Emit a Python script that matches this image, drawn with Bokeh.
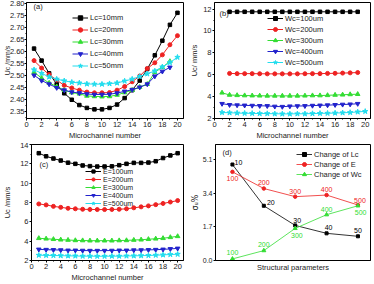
from bokeh.plotting import figure
from bokeh.layouts import row, column
from bokeh.models import (Range1d, SingleIntervalTicker, FixedTicker, NumeralTickFormatter,
                          Label, ColumnDataSource)
from bokeh.core.properties import value
from bokeh.embed import file_html
from bokeh.resources import INLINE

FONT = "Liberation Sans"

# ---------------- data ----------------
ch_1_20 = [1, 2, 3, 4, 5, 6, 7, 8, 9, 10, 11, 12, 13, 14, 15, 16, 17, 18, 19, 20]
ch_1_19 = [1, 2, 3, 4, 5, 6, 7, 8, 9, 10, 11, 12, 13, 14, 15, 16, 17, 18, 19]
ch_2_19 = [2, 3, 4, 5, 6, 7, 8, 9, 10, 11, 12, 13, 14, 15, 16, 17, 18, 19]

# (a) channel length Lc
a_names = ["Lc=10mm", "Lc=20mm", "Lc=30mm", "Lc=40mm", "Lc=50mm"]
a_L10 = [2.613, 2.563, 2.51, 2.465, 2.427, 2.40, 2.378, 2.366, 2.36, 2.36,
         2.366, 2.38, 2.407, 2.44, 2.48, 2.528, 2.585, 2.646, 2.712, 2.762]
a_L20 = [2.563, 2.532, 2.505, 2.482, 2.46, 2.449, 2.44, 2.432, 2.429, 2.429,
         2.43, 2.44, 2.455, 2.475, 2.499, 2.53, 2.554, 2.587, 2.629, 2.667]
a_L30 = [2.515, 2.49, 2.47, 2.455, 2.44, 2.43, 2.425, 2.416, 2.414, 2.413,
         2.414, 2.42, 2.43, 2.44, 2.453, 2.465, 2.515, 2.535, 2.56]
a_L40 = [2.502, 2.48, 2.465, 2.45, 2.44, 2.432, 2.428, 2.424, 2.422, 2.422,
         2.423, 2.428, 2.435, 2.442, 2.452, 2.465, 2.498, 2.518, 2.535]
a_L50 = [2.525, 2.51, 2.495, 2.486, 2.479, 2.473, 2.47, 2.466, 2.465, 2.465,
         2.467, 2.47, 2.478, 2.486, 2.497, 2.508, 2.52, 2.537, 2.555, 2.577]

# (b) channel width Wc
b_names = ["Wc=100um", "Wc=200um", "Wc=300um", "Wc=400um", "Wc=500um"]
b_W100 = [11.75, 11.75, 11.75, 11.75, 11.75, 11.75, 11.75, 11.75, 11.75,
          11.75, 11.75, 11.75, 11.75, 11.75, 11.75, 11.75, 11.75, 11.75]
b_W200 = [6.12, 6.1, 6.1, 6.1, 6.09, 6.08, 6.08, 6.08, 6.08, 6.08, 6.09, 6.1,
          6.1, 6.12, 6.13, 6.15, 6.17, 6.2]
b_W300 = [4.35, 4.15, 4.12, 4.1, 4.09, 4.08, 4.07, 4.07, 4.07, 4.07, 4.07, 4.08,
          4.1, 4.1, 4.12, 4.15, 4.17, 4.2, 4.22]
b_W400 = [3.35, 3.25, 3.22, 3.2, 3.18, 3.16, 3.15, 3.1, 3.08, 3.12, 3.14, 3.15,
          3.18, 3.2, 3.22, 3.25, 3.28, 3.3, 3.35]
b_W500 = [2.55, 2.52, 2.5, 2.48, 2.47, 2.45, 2.45, 2.43, 2.42, 2.42, 2.43, 2.43,
          2.45, 2.47, 2.48, 2.5, 2.52, 2.55, 2.6, 2.65]

# (c) spacing E
c_names = ["E=100um", "E=200um", "E=300um", "E=400um", "E=500um"]
c_E100 = [13.1, 12.78, 12.55, 12.34, 12.12, 12.0, 11.83, 11.76, 11.72, 11.72,
          11.74, 11.86, 12.0, 12.1, 12.1, 12.13, 12.27, 12.6, 12.87, 13.1]
c_E200 = [7.85, 7.75, 7.6, 7.5, 7.4, 7.35, 7.3, 7.28, 7.27, 7.27, 7.28, 7.3,
          7.35, 7.45, 7.55, 7.65, 7.78, 7.9, 8.05, 8.2]
c_E300 = [4.3, 4.25, 4.2, 4.15, 4.12, 4.08, 4.07, 4.05, 4.05, 4.05, 4.05, 4.07,
          4.08, 4.12, 4.15, 4.2, 4.25, 4.3, 4.4, 4.5]
c_E400 = [3.15, 3.12, 3.1, 3.08, 3.05, 3.05, 3.03, 3.02, 3.02, 3.02, 3.03, 3.05,
          3.05, 3.07, 3.08, 3.1, 3.12, 3.15, 3.2, 3.25]
c_E500 = [2.55, 2.53, 2.52, 2.5, 2.48, 2.47, 2.45, 2.45, 2.44, 2.44, 2.45, 2.45,
          2.47, 2.48, 2.5, 2.52, 2.55, 2.58, 2.62, 2.65]

# (d) sigma_U %
d_x = [1, 2, 3, 4, 5]
d_L = [4.84, 2.76, 1.77, 1.37, 1.22]
d_E = [4.47, 3.63, 3.22, 3.30, 2.80]
d_W = [0.08, 0.50, 1.62, 2.31, 2.76]
d_L_text = ["10", "20", "30", "40", "50"]
d_E_text = ["100", "200", "300", "400", "500"]
d_W_text = ["100", "200", "300", "400", "500"]
d_names = ["Change of Lc", "Change of E", "Change of Wc"]

COLORS = ["#000000", "#EE2222", "#33DD33", "#2222CC", "#22DDEE"]
MARKERS = ["square", "circle", "triangle", "inverted_triangle", "star"]
MSIZE = [3.5, 4, 4.5, 4.5, 5.5]
FS = "7.5px"


def make_fig(xr, yr, bl, br, bt, bb):
    p = figure(width=187, height=142, x_range=Range1d(*xr), y_range=Range1d(*yr),
               output_backend="svg", toolbar_location=None,
               min_border_left=bl, min_border_right=br, min_border_top=bt,
               min_border_bottom=bb, background_fill_color="white",
               border_fill_color="white")
    p.xgrid.visible = False
    p.ygrid.visible = False
    p.outline_line_color = "black"
    p.outline_line_alpha = 1
    p.outline_line_width = 1
    for ax in (p.xaxis[0], p.yaxis[0]):
        ax.axis_line_color = "black"
        ax.major_tick_line_color = "black"
        ax.minor_tick_line_color = "black"
        ax.major_tick_out = 2
        ax.major_tick_in = 0
        ax.minor_tick_out = 1
        ax.minor_tick_in = 0
        ax.major_label_text_font = FONT
        ax.major_label_text_font_size = FS
        ax.major_label_text_color = "#222222"
        ax.major_label_standoff = 1
        ax.axis_label_text_font = FONT
        ax.axis_label_text_font_size = FS
        ax.axis_label_text_font_style = "normal"
        ax.axis_label_text_color = "#222222"
        ax.axis_label_standoff = 1
    return p


def add_text(p, x, y, text, size=FS, align="left"):
    p.add_layout(Label(x=x, y=y, x_units="screen", y_units="screen", text=text,
                       text_font=FONT, text_font_size=size,
                       text_align=align, text_baseline="middle", text_color="#222222"))


def style_legend(p, loc, h, sp, fs=FS):
    lg = p.legend[0]
    lg.location = loc
    lg.border_line_color = None
    lg.background_fill_alpha = 0
    lg.padding = 0
    lg.margin = 0
    lg.spacing = sp
    lg.label_height = h
    lg.glyph_height = h
    lg.glyph_width = 16
    lg.label_standoff = 2
    lg.label_text_font = FONT
    lg.label_text_font_size = fs
    lg.label_text_color = "#222222"


def draw_series(p, xs, ys, names, lw=1.0):
    for i, (x, y, n) in enumerate(zip(xs, ys, names)):
        p.line(x, y, color=COLORS[i], line_width=lw, legend_label=n)
        p.scatter(x, y, marker=MARKERS[i], size=MSIZE[i], color=COLORS[i],
                  legend_label=n)


# ---------------- panel (a) ----------------
pa = make_fig((0, 20.8), (2.322, 2.805), 25, 4, 2, 20)
draw_series(pa, [ch_1_20, ch_1_20, ch_1_19, ch_1_19, ch_1_20],
            [a_L10, a_L20, a_L30, a_L40, a_L50], a_names)
pa.xaxis.ticker = SingleIntervalTicker(interval=2, num_minor_ticks=2)
pa.yaxis.ticker = SingleIntervalTicker(interval=0.05, num_minor_ticks=2)
pa.yaxis.formatter = NumeralTickFormatter(format="0.00")
pa.yaxis.major_label_standoff = 0
pa.xaxis.axis_label = "Microchannel number"
pa.yaxis.axis_label = "Uc /mm/s"
pa.yaxis.axis_label_text_font_size = "7px"
pa.yaxis.axis_label_standoff = -4
style_legend(pa, (46, 47), 11, 1)
add_text(pa, 7, 112, "(a)")

# ---------------- panel (b) ----------------
pb = make_fig((0, 20.7), (2, 12.6), 26, 4, 1, 21)
draw_series(pb, [ch_2_19, ch_2_19, ch_1_19, ch_1_19, ch_1_20],
            [b_W100, b_W200, b_W300, b_W400, b_W500], b_names)
pb.xaxis.ticker = SingleIntervalTicker(interval=2, num_minor_ticks=2)
pb.yaxis.ticker = SingleIntervalTicker(interval=2, num_minor_ticks=2)
pb.xaxis.axis_label = "Microchannel number"
pb.yaxis.axis_label = "Uc/ mm/s"
pb.yaxis.axis_label_standoff = 1
style_legend(pb, (53, 51), 10, 1)
add_text(pb, 5, 105, "(b)")

# ---------------- panel (c) ----------------
pc = make_fig((0, 20.8), (2, 14), 25, 4, 1, 23)
draw_series(pc, [ch_1_20] * 5, [c_E100, c_E200, c_E300, c_E400, c_E500], c_names)
pc.xaxis.ticker = SingleIntervalTicker(interval=2, num_minor_ticks=2)
pc.yaxis.ticker = SingleIntervalTicker(interval=2, num_minor_ticks=2)
pc.xaxis.axis_label = "Microchannel number"
pc.yaxis.axis_label = "Uc /mm/s"
pc.yaxis.axis_label_standoff = 5
style_legend(pc, (54, 53), 8, 0, fs="7px")
add_text(pc, 8, 96, "(c)")

# ---------------- panel (d) ----------------
pd_ = make_fig((0.46, 5.4), (0, 5.85), 25, 4, 2, 22)
d_cols = COLORS[:3]
for i, (yv, n) in enumerate(zip([d_L, d_E, d_W], d_names)):
    pd_.line(d_x, yv, color=d_cols[i], line_width=0.8, legend_label=n)
    pd_.scatter(d_x, yv, marker=MARKERS[i], size=MSIZE[i] - 0.5, color=d_cols[i],
                legend_label=n)
L_dx = [6, 7, 2, 2, 0]
L_dy = [-2, -3, -5, -5.5, -6]
E_dx = [0, 0, 0, 0, 2]
E_dy = [6.3, -5.7, -5, -5.3, -4.5]
W_dx = [0, 0, 1.7, 0, 2.7]
W_dy = [-6.6, -5.7, 6.7, -5.6, 6.4]
for yv, txt, dx, dy, col in ((d_L, d_L_text, L_dx, L_dy, d_cols[0]),
                             (d_E, d_E_text, E_dx, E_dy, d_cols[1]),
                             (d_W, d_W_text, W_dx, W_dy, d_cols[2])):
    src = ColumnDataSource(dict(x=d_x, y=yv, t=txt, dx=dx, dy=dy))
    pd_.text(x="x", y="y", text="t", x_offset="dx", y_offset="dy", source=src,
             text_font=value(FONT), text_font_size="7px", text_color=col,
             text_align="center", text_baseline="middle")
pd_.xaxis.ticker = FixedTicker(ticks=[])
pd_.xaxis.major_tick_out = 0
pd_.xaxis.axis_label = "Structural parameters"
pd_.xaxis.axis_label_standoff = 2
pd_.yaxis.ticker = FixedTicker(ticks=[0, 1.7, 3.4, 5.1])
pd_.yaxis.formatter = NumeralTickFormatter(format="0.0")
pd_.yaxis.major_label_text_font_size = "7px"
pd_.yaxis.axis_label = "σᵤ%"
pd_.yaxis.axis_label_text_font = "DejaVu Sans"
pd_.yaxis.axis_label_text_font_size = "8px"
pd_.yaxis.axis_label_standoff = 0
style_legend(pd_, (81, 81), 10, 0, fs="7.5px")
add_text(pd_, 7, 108, "(d)")

layout = column(row(pa, pb), row(pc, pd_))
open("out.html", "w").write(file_html(layout, INLINE))
